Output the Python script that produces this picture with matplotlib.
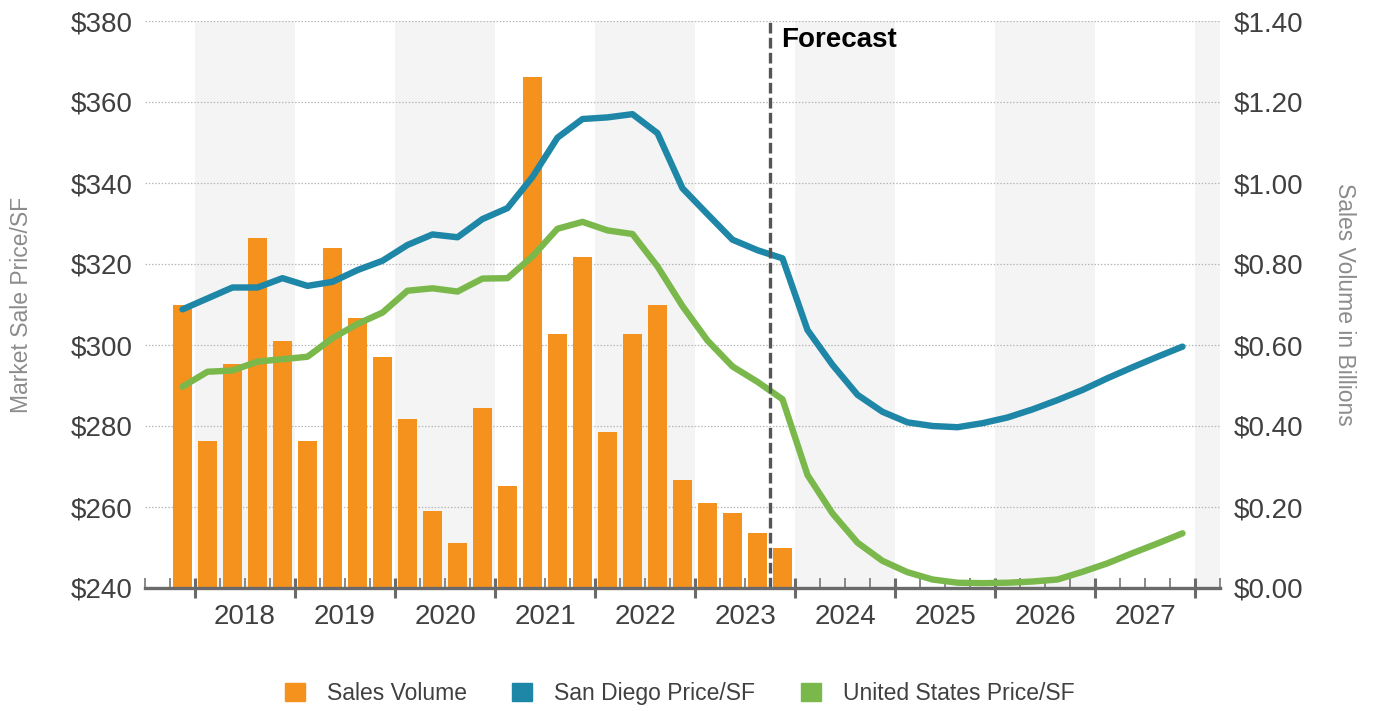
import numpy as np
import matplotlib
matplotlib.use("Agg")
import matplotlib.pyplot as plt
import matplotlib.transforms as mtransforms
from matplotlib.patches import Patch

plt.rcParams["font.family"] = ["Liberation Sans", "DejaVu Sans"]

# Quarterly series, 2017 Q4 through 2027 Q4 (forecast starts 2023 Q4)
quarters = [f"{y}Q{q}" for y in range(2017, 2028) for q in range(1, 5)][3:]
years = [2018, 2019, 2020, 2021, 2022, 2023, 2024, 2025, 2026, 2027]

# Sales volume in billions (history only, 2017 Q4 - 2023 Q4)
sales_volume = [0.700, 0.362, 0.553, 0.865, 0.610, 0.362, 0.840, 0.667, 0.571,
                0.417, 0.191, 0.110, 0.445, 0.251, 1.261, 0.626, 0.817, 0.384,
                0.626, 0.698, 0.266, 0.209, 0.185, 0.137, 0.100]

# Market sale price per SF
san_diego_price = [308.8, 311.5, 314.2, 314.2, 316.5, 314.6, 315.6, 318.5, 320.8,
                   324.7, 327.3, 326.6, 331.1, 333.8, 341.5, 351.2, 355.8, 356.2,
                   357.0, 352.3, 338.7, 332.3, 326.0, 323.4, 321.4, 303.7, 295.1,
                   287.7, 283.5, 280.9, 280.0, 279.7, 280.7, 282.1, 284.1, 286.4,
                   288.9, 291.8, 294.5, 297.1, 299.6]
us_price = [289.7, 293.4, 293.7, 295.9, 296.5, 297.1, 301.7, 305.2, 308.0,
            313.4, 314.0, 313.2, 316.4, 316.5, 321.9, 328.7, 330.4, 328.3,
            327.4, 319.4, 309.6, 301.1, 294.7, 290.9, 286.6, 267.9, 258.4,
            251.2, 246.7, 243.9, 242.1, 241.3, 241.2, 241.3, 241.6, 242.1,
            244.0, 246.1, 248.6, 251.0, 253.5]

price_ticks = [240, 260, 280, 300, 320, 340, 360, 380]
volume_ticks = [0.0, 0.2, 0.4, 0.6, 0.8, 1.0, 1.2, 1.4]
forecast_start = 23.5  # boundary between 2023 Q3 and 2023 Q4

ORANGE = "#F5921E"
BLUE = "#1E86A6"
GREEN = "#7AB84B"
AXIS_GREY = "#6a6a6a"
TEXT = "#404040"
TITLE_GREY = "#8c8c8c"

x = np.arange(len(quarters))
xv = np.arange(len(sales_volume))

fig = plt.figure(figsize=(13.73, 7.11), dpi=100)
ax = fig.add_axes([145 / 1373, 1 - 588 / 711, 1075 / 1373, 567 / 711])
ax2 = ax.twinx()

# Bottom layer (volume axis): year bands, gridlines and bars
ax.set_zorder(2)
ax2.set_zorder(1)
ax.patch.set_visible(False)

for k in range(0, 11, 2):
    lo = 0.5 + 4 * k
    hi = min(lo + 4, 41.5)
    ax2.axvspan(lo, hi, color="#f4f4f4", lw=0, zorder=0)

ax2.set_ylim(0, 1.4)
ax2.set_yticks(volume_ticks)
ax2.set_yticklabels([f"${v:.2f}" for v in volume_ticks])
ax2.grid(axis="y", color="#b8b8b8", linestyle=(0, (1.2, 1.4)), linewidth=0.9)
ax2.set_axisbelow(True)
ax2.bar(xv, sales_volume, width=0.78, color=ORANGE, zorder=2)
for s in ax2.spines.values():
    s.set_visible(False)
ax2.tick_params(axis="y", length=0, pad=10, labelsize=20, labelcolor=TEXT)
ax2.set_ylabel("Sales Volume in Billions", rotation=270, fontsize=16.5,
               color=TITLE_GREY, labelpad=38)

# Top layer (price axis): lines, forecast marker, x axis
ax.set_xlim(-1.5, 41.5)
ax.set_ylim(240, 380)
ax.set_yticks(price_ticks)
ax.set_yticklabels([f"${v}" for v in price_ticks])
ax.tick_params(axis="y", length=0, pad=9, labelsize=20, labelcolor=TEXT)
ax.set_ylabel("Market Sale Price/SF", fontsize=16.5, color=TITLE_GREY, labelpad=27)

ax.plot(x, san_diego_price, color=BLUE, lw=4.6, solid_capstyle="round",
        solid_joinstyle="round", zorder=3)
ax.plot(x, us_price, color=GREEN, lw=4.6, solid_capstyle="round",
        solid_joinstyle="round", zorder=3)

ax.axvline(forecast_start, color="#555555", lw=2.4, linestyle=(0, (3.2, 1.3)),
           zorder=4)
ax.text(forecast_start + 0.44, 0.954, "Forecast", transform=ax.get_xaxis_transform(),
        fontsize=20, fontweight="bold", color="black", va="baseline", ha="left")

for side in ("left", "right", "top"):
    ax.spines[side].set_visible(False)
ax.spines["bottom"].set_color(AXIS_GREY)
ax.spines["bottom"].set_linewidth(2.4)
ax.spines["bottom"].set_zorder(5)

ax.set_xticks(np.arange(0.5, 41, 4))
ax.set_xticks(np.arange(-1.5, 42, 1), minor=True)
ax.tick_params(axis="x", which="major", direction="inout", length=15, width=2.2,
               color=AXIS_GREY, labelbottom=False)
ax.tick_params(axis="x", which="minor", direction="in", length=7.5, width=1.1,
               color=AXIS_GREY)

# Year labels centred under each year span
offset = mtransforms.offset_copy(ax.get_xaxis_transform(), fig=fig, x=0, y=-29.5,
                                 units="dots")
for k, yr in enumerate(years):
    ax.text(2.5 + 4 * k, 0, str(yr), transform=offset, ha="center", va="center",
            fontsize=20, color=TEXT)

handles = [Patch(color=ORANGE), Patch(color=BLUE), Patch(color=GREEN)]
labels = ["Sales Volume", "San Diego Price/SF", "United States Price/SF"]
fig.legend(handles, labels, loc="center", bbox_to_anchor=(0.495, 0.025), ncol=3,
           frameon=False, fontsize=16.5, labelcolor=TEXT, handlelength=0.87,
           handleheight=0.87, handletextpad=0.95, columnspacing=2.0)

fig.savefig("out.png", dpi=100)
